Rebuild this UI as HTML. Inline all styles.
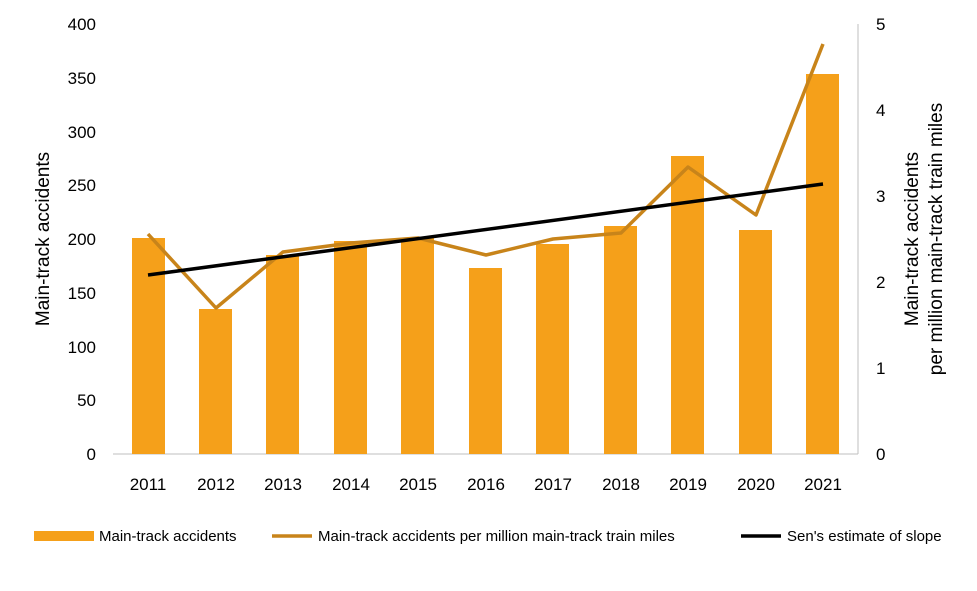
<!DOCTYPE html>
<html><head><style>
body{margin:0;background:#fff;}
svg text{font-family:"Liberation Sans",sans-serif;fill:#000;}
</style></head><body>
<svg width="977" height="586" viewBox="0 0 977 586" xmlns="http://www.w3.org/2000/svg">
<g font-size="17">
<text x="96" y="30" text-anchor="end">400</text>
<text x="96" y="84" text-anchor="end">350</text>
<text x="96" y="138" text-anchor="end">300</text>
<text x="96" y="191" text-anchor="end">250</text>
<text x="96" y="245" text-anchor="end">200</text>
<text x="96" y="299" text-anchor="end">150</text>
<text x="96" y="353" text-anchor="end">100</text>
<text x="96" y="406" text-anchor="end">50</text>
<text x="96" y="460" text-anchor="end">0</text>
<text x="876" y="30">5</text>
<text x="876" y="116">4</text>
<text x="876" y="202">3</text>
<text x="876" y="288">2</text>
<text x="876" y="374">1</text>
<text x="876" y="460">0</text>
</g>
<line x1="858" y1="24" x2="858" y2="454" stroke="#bfbfbf" stroke-width="1"/>
<line x1="113" y1="454" x2="858" y2="454" stroke="#bfbfbf" stroke-width="1"/>
<g fill="#F5A01A">
<rect x="132" y="238" width="33" height="216"/>
<rect x="199" y="309" width="33" height="145"/>
<rect x="266" y="255" width="33" height="199"/>
<rect x="334" y="241" width="33" height="213"/>
<rect x="401" y="238" width="33" height="216"/>
<rect x="469" y="268" width="33" height="186"/>
<rect x="536" y="244" width="33" height="210"/>
<rect x="604" y="226" width="33" height="228"/>
<rect x="671" y="156" width="33" height="298"/>
<rect x="739" y="230" width="33" height="224"/>
<rect x="806" y="74" width="33" height="380"/>
</g>
<polyline fill="none" stroke="#C8841A" stroke-width="3.5" stroke-linejoin="round" points="148,234 216,308 283,252 351,243 418,238 486,255 553,239 621,233 688,167 756,215 823,44"/>
<line x1="148" y1="275" x2="823" y2="184" stroke="#000" stroke-width="3.5"/>
<g font-size="17" text-anchor="middle">
<text x="148" y="490">2011</text><text x="216" y="490">2012</text><text x="283" y="490">2013</text>
<text x="351" y="490">2014</text><text x="418" y="490">2015</text><text x="486" y="490">2016</text>
<text x="553" y="490">2017</text><text x="621" y="490">2018</text><text x="688" y="490">2019</text>
<text x="756" y="490">2020</text><text x="823" y="490">2021</text>
</g>
<text transform="translate(49,239) rotate(-90)" font-size="19" text-anchor="middle">Main-track accidents</text>
<text transform="translate(918,239) rotate(-90)" font-size="19" text-anchor="middle">Main-track accidents</text>
<text transform="translate(942,239) rotate(-90)" font-size="19" text-anchor="middle">per million main-track train miles</text>
<rect x="34" y="531" width="60" height="10" fill="#F5A01A"/>
<text x="99" y="541" font-size="15">Main-track accidents</text>
<line x1="272" y1="536" x2="312" y2="536" stroke="#C8841A" stroke-width="3.5"/>
<text x="318" y="541" font-size="15">Main-track accidents per million main-track train miles</text>
<line x1="741" y1="536" x2="781" y2="536" stroke="#000" stroke-width="3.5"/>
<text x="787" y="541" font-size="15">Sen's estimate of slope</text>
</svg>
</body></html>
